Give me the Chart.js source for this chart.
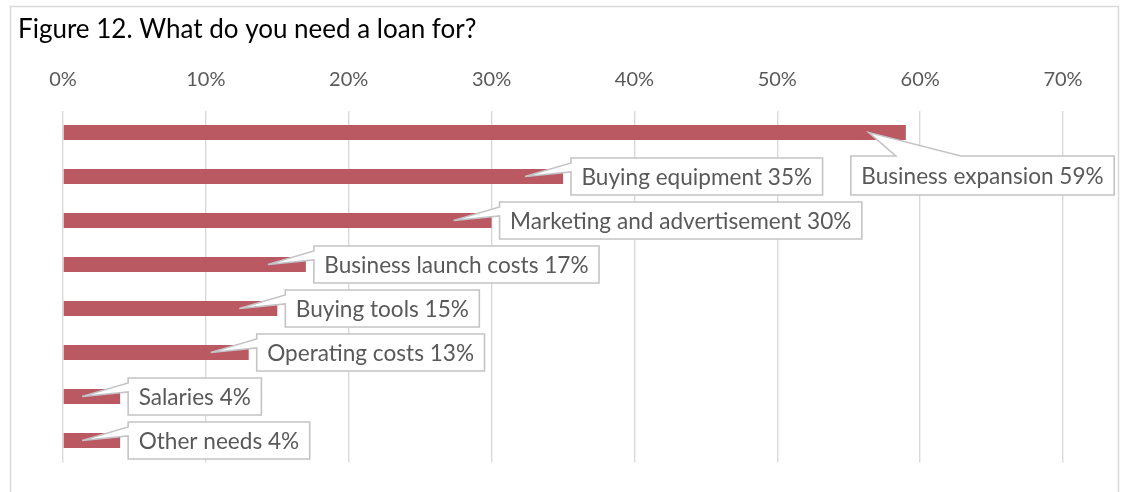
<!DOCTYPE html>
<html>
<head>
<meta charset="utf-8">
<script src="https://cdn.jsdelivr.net/npm/chart.js@4.4.1/dist/chart.umd.min.js"></script>
<style>
  html, body { margin: 0; padding: 0; background: #ffffff; }
  #wrap { width: 1127px; height: 492px; }
</style>
</head>
<body>
<div id="wrap"><canvas id="c" width="1127" height="492"></canvas></div>
<script>
const categories = ["Business expansion", "Buying equipment", "Marketing and advertisement", "Business launch costs", "Buying tools", "Operating costs", "Salaries", "Other needs"];
const shares = [59, 35, 30, 17, 15, 13, 4, 4];
const tickValues = [0, 10, 20, 30, 40, 50, 60, 70];

const FONT = "Lato, 'Open Sans', sans-serif";
const TEXT_GRAY = '#595959';

const frame = {
  id: 'frame',
  beforeDraw(chart) {
    const ctx = chart.ctx;
    ctx.save();
    ctx.fillStyle = '#ffffff';
    ctx.fillRect(0, 0, chart.width, chart.height);
    ctx.strokeStyle = '#d9d9d9';
    ctx.lineWidth = 1.5;
    ctx.strokeRect(10.5, 6.5, 1108, 600);
    ctx.restore();
  }
};

const callouts = {
  id: 'callouts',
  afterDatasetsDraw(chart) {
    const ctx = chart.ctx;
    const meta = chart.getDatasetMeta(0);
    ctx.save();
    ctx.font = '22.6px ' + FONT;
    ctx.textBaseline = 'middle';
    ctx.textAlign = 'left';
    meta.data.forEach((bar, i) => {
      const text = categories[i] + ' ' + shares[i] + '%';
      const tw = ctx.measureText(text).width;
      const w = tw + 21;
      const ax = bar.x - 38, ay = bar.y;
      let bx, by, h;
      ctx.beginPath();
      if (i === 0) {
        h = 39;
        bx = bar.x - 55; by = bar.y + 23.5;
        ctx.moveTo(bx, by);
        ctx.lineTo(bx + 45, by);
        ctx.lineTo(ax + 1, ay);
        ctx.lineTo(bx + 110, by);
        ctx.lineTo(bx + w, by);
        ctx.lineTo(bx + w, by + h);
        ctx.lineTo(bx, by + h);
        ctx.closePath();
      } else {
        h = 37;
        bx = bar.x + 8; by = bar.y - h / 2;
        ctx.moveTo(bx, by);
        ctx.lineTo(bx + w, by);
        ctx.lineTo(bx + w, by + h);
        ctx.lineTo(bx, by + h);
        ctx.lineTo(bx, by + 14);
        ctx.lineTo(ax, ay);
        ctx.lineTo(bx, by + 5);
        ctx.closePath();
      }
      ctx.fillStyle = '#ffffff';
      ctx.fill();
      ctx.strokeStyle = '#c4c4c8';
      ctx.lineWidth = 1.6;
      ctx.stroke();
      ctx.fillStyle = TEXT_GRAY;
      ctx.fillText(text, bx + 10.5, by + h / 2 + 1);
    });
    ctx.restore();
  }
};

new Chart(document.getElementById('c'), {
  type: 'bar',
  data: {
    labels: categories,
    datasets: [{
      data: shares,
      backgroundColor: '#BA5962',
      borderWidth: 0,
      categoryPercentage: 1,
      barPercentage: 0.34
    }]
  },
  options: {
    indexAxis: 'y',
    responsive: false,
    animation: false,
    devicePixelRatio: 1,
    layout: { padding: { left: 18, right: 64, top: 14, bottom: 29.5 } },
    plugins: {
      legend: { display: false },
      tooltip: { enabled: false },
      title: {
        display: true,
        text: 'Figure 12. What do you need a loan for?',
        align: 'start',
        color: '#000000',
        font: { family: FONT, size: 26, weight: 'normal' },
        padding: { top: 0, bottom: 0 }
      }
    },
    scales: {
      x: {
        type: 'linear',
        position: 'top',
        min: 0,
        max: 70,
        afterBuildTicks(scale) { scale.ticks = tickValues.map(v => ({ value: v })); },
        afterFit(scale) { scale.height = 110.5 - 45.2; },
        ticks: {
          callback: v => v + '%',
          color: TEXT_GRAY,
          font: { family: FONT, size: 20 },
          padding: 19,
          maxRotation: 0,
          autoSkip: false
        },
        grid: { color: '#d9d9d9', lineWidth: 1.4, drawTicks: false },
        border: { display: false }
      },
      y: {
        ticks: { display: false },
        grid: { display: false },
        border: { display: false },
        afterFit(scale) { scale.width = 45; }
      }
    }
  },
  plugins: [frame, callouts]
});
</script>
</body>
</html>
